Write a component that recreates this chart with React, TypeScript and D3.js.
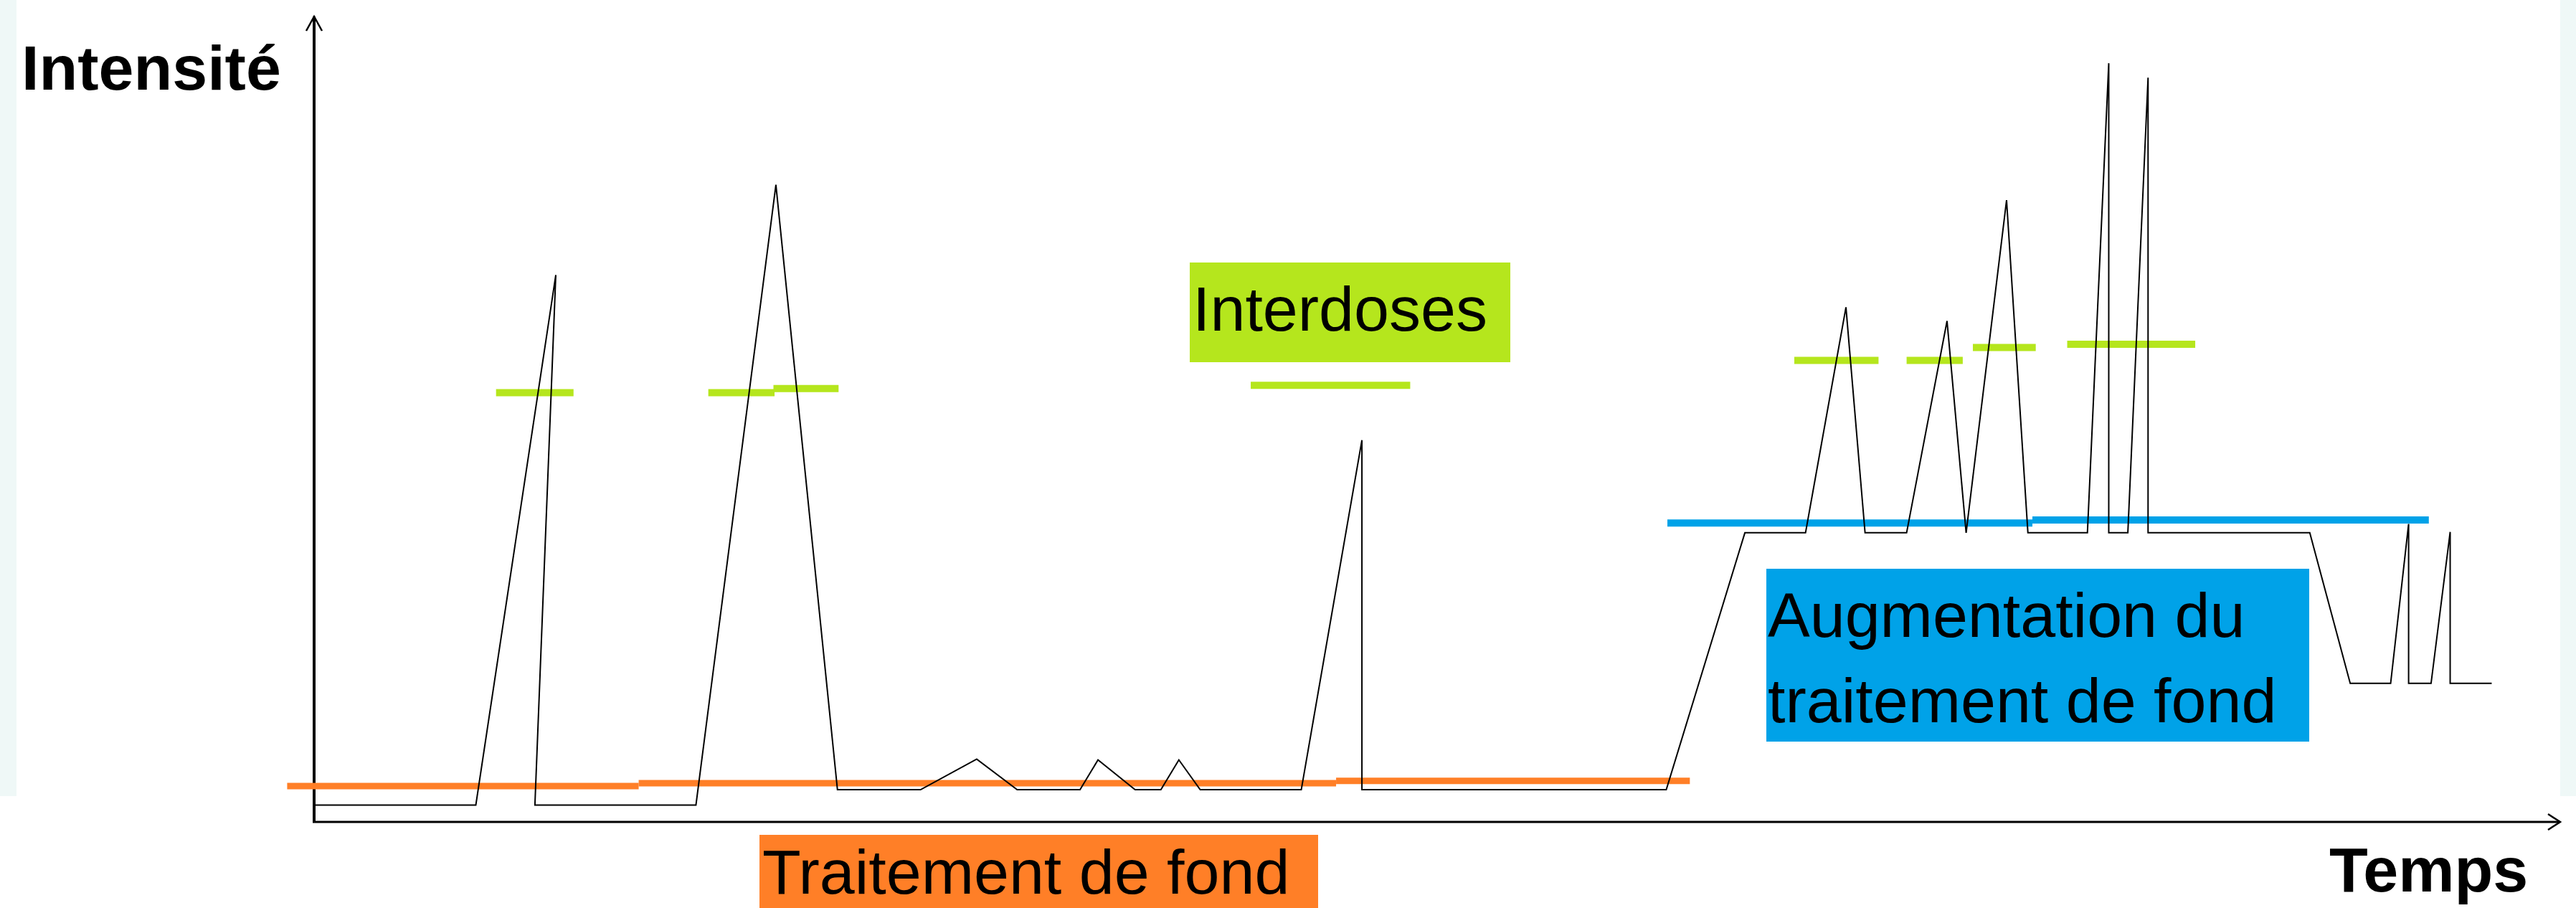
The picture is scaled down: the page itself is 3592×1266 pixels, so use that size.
import { useEffect, useRef } from 'react';
import * as d3 from 'd3';

// black intensity trace (time, intensity in 0-100 units)
const signalTime = [0, 7.2, 10.76, 9.83, 17.0, 20.56, 23.3, 27.0, 29.5, 31.3,
  34.1, 34.9, 36.55, 37.7, 38.5, 39.45, 43.95, 46.65, 46.65, 60.2,
  63.7, 66.4, 68.2, 69.05, 70.9, 72.7, 73.55, 75.35, 76.3, 78.95,
  79.9, 79.9, 80.75, 81.65, 81.65, 88.85, 90.65, 92.45, 93.25, 93.25,
  94.25, 95.1, 95.1, 96.95];
const signalLevel = [2.1, 2.1, 67.9, 2.1, 2.1, 79.1, 4, 4, 7.8, 4,
  4, 7.7, 4, 4, 7.7, 4, 4, 47.4, 4, 4,
  35.9, 35.9, 63.9, 35.9, 35.9, 62.2, 35.9, 77.2, 35.9, 35.9,
  94.2, 35.9, 35.9, 92.4, 35.9, 35.9, 17.2, 17.2, 37.0, 17.2,
  17.2, 36.0, 17.2, 17.2];

// "Traitement de fond" (orange) levels
const fondStart = [-1.2, 14.45, 45.5];
const fondEnd = [14.45, 45.5, 61.25];
const fondLevel = [4.45, 4.8, 5.1];

// "Interdoses" (green) marks
const interStart = [8.1, 17.55, 20.45, 41.7, 65.9, 70.9, 73.85, 78.05];
const interEnd = [11.55, 20.5, 23.35, 48.8, 69.65, 73.4, 76.65, 83.75];
const interLevel = [53.3, 53.3, 53.8, 54.2, 57.3, 57.3, 58.9, 59.3];

// "Augmentation du traitement de fond" (blue) levels
const augStart = [60.25, 76.5];
const augEnd = [76.5, 94.15];
const augLevel = [37.1, 37.5];

const axisTitles = ['Intensité', 'Temps'];
const labelInter = 'Interdoses';
const labelFond = 'Traitement de fond';
const labelAug = ['Augmentation du', 'traitement de fond'];

const W = 3592;
const H = 1266;
const FONT = '"Liberation Sans", Arial, sans-serif';
const ORANGE = '#ff7f27';
const GREEN = '#b5e61d';
const BLUE = '#00a2e8';
const STRIP = '#eff8f7';

export default function App() {
  const ref = useRef<SVGSVGElement>(null);

  useEffect(() => {
    document.body.style.margin = '0';
    const svg = d3.select(ref.current);
    svg.selectAll('*').remove();

    const x = d3.scaleLinear().domain([0, 100]).range([438, 3570]);
    const y = d3.scaleLinear().domain([0, 100]).range([1146, 23]);

    svg.append('rect').attr('width', W).attr('height', H).attr('fill', 'white');
    svg.append('rect').attr('x', 0).attr('y', 0).attr('width', 23).attr('height', 1110).attr('fill', STRIP);
    svg.append('rect').attr('x', 3570).attr('y', 0).attr('width', W - 3570).attr('height', 1110).attr('fill', STRIP);

    // axes
    svg.append('line')
      .attr('x1', x(0)).attr('x2', x(0))
      .attr('y1', y(0) + 1).attr('y2', y(100))
      .attr('stroke', 'black').attr('stroke-width', 4);
    svg.append('path')
      .attr('d', `M${x(0) - 11},${y(100) + 20}L${x(0)},${y(100)}L${x(0) + 11},${y(100) + 20}`)
      .attr('fill', 'none').attr('stroke', 'black').attr('stroke-width', 2.5);
    svg.append('line')
      .attr('x1', x(0) - 2).attr('x2', x(100))
      .attr('y1', y(0)).attr('y2', y(0))
      .attr('stroke', 'black').attr('stroke-width', 3);
    svg.append('path')
      .attr('d', `M${x(100) - 17},${y(0) - 11}L${x(100)},${y(0)}L${x(100) - 17},${y(0) + 11}`)
      .attr('fill', 'none').attr('stroke', 'black').attr('stroke-width', 2.5);

    // coloured level marks
    const segs = (starts: number[], ends: number[], levels: number[], color: string, w: number) => {
      svg.append('g').selectAll('line')
        .data(starts.map((s, i) => ({ s, e: ends[i], v: levels[i] })))
        .join('line')
        .attr('x1', d => x(d.s)).attr('x2', d => x(d.e))
        .attr('y1', d => y(d.v)).attr('y2', d => y(d.v))
        .attr('stroke', color).attr('stroke-width', w);
    };
    segs(fondStart, fondEnd, fondLevel, ORANGE, 9);
    segs(interStart, interEnd, interLevel, GREEN, 10);
    segs(augStart, augEnd, augLevel, BLUE, 10);

    // intensity trace
    const pts = signalTime.map((t, i) => [t, signalLevel[i]] as [number, number]);
    const line = d3.line<[number, number]>().x(d => x(d[0])).y(d => y(d[1]));
    svg.append('path')
      .datum(pts)
      .attr('d', line)
      .attr('fill', 'none')
      .attr('stroke', 'black')
      .attr('stroke-width', 2);

    // axis titles
    svg.append('text').text(axisTitles[0])
      .attr('x', 30).attr('y', 125)
      .attr('font-family', FONT).attr('font-size', 88).attr('font-weight', 'bold');
    svg.append('text').text(axisTitles[1])
      .attr('x', 3248).attr('y', 1243)
      .attr('font-family', FONT).attr('font-size', 88).attr('font-weight', 'bold');

    // annotation boxes
    const box = (bx: number, by: number, bw: number, bh: number, color: string) =>
      svg.append('rect').attr('x', bx).attr('y', by).attr('width', bw).attr('height', bh).attr('fill', color);

    box(1659, 366, 447, 139, GREEN);
    svg.append('text').text(labelInter)
      .attr('x', 1663).attr('y', 461)
      .attr('font-family', FONT).attr('font-size', 88);

    box(2463, 793, 757, 241, BLUE);
    labelAug.forEach((t, i) => {
      svg.append('text').text(t)
        .attr('x', 2465).attr('y', 888 + i * 119)
        .attr('font-family', FONT).attr('font-size', 88);
    });

    box(1059, 1164, 779, H - 1164, ORANGE);
    svg.append('text').text(labelFond)
      .attr('x', 1063).attr('y', 1246)
      .attr('font-family', FONT).attr('font-size', 88);
  }, []);

  return (
    <svg ref={ref} width={W} height={H}
      style={{ position: 'absolute', left: 0, top: 0, display: 'block' }} />
  );
}
